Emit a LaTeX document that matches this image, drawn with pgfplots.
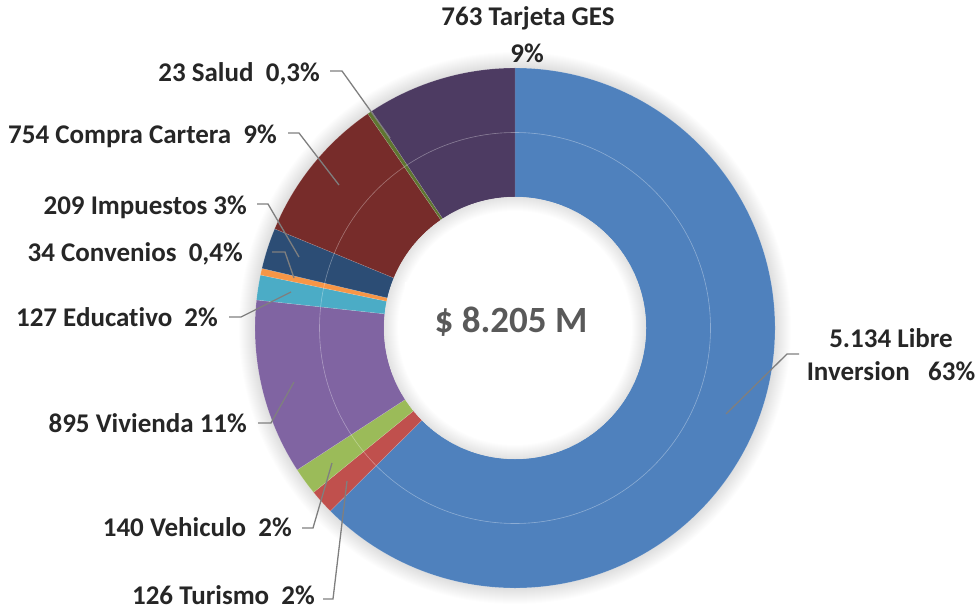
\documentclass[border=0pt]{standalone}
\usepackage{pgfplots}
\pgfplotsset{compat=1.18}
\usepackage{pgfplotstable}
\usepackage{fontspec}
\setmainfont{Carlito}[Ligatures={NoCommon}]

\definecolor{cLib}{HTML}{4F81BD}
\definecolor{cTur}{HTML}{C0504D}
\definecolor{cVeh}{HTML}{9BBB59}
\definecolor{cViv}{HTML}{8064A2}
\definecolor{cEdu}{HTML}{4BACC6}
\definecolor{cCon}{HTML}{F79646}
\definecolor{cImp}{HTML}{2C4D75}
\definecolor{cCar}{HTML}{772C2A}
\definecolor{cSal}{HTML}{5F7530}
\definecolor{cTar}{HTML}{4D3B62}
\definecolor{lbl}{HTML}{262626}
\definecolor{lead}{HTML}{7F7F7F}
\definecolor{ctr}{HTML}{595959}

\pgfplotstableread{
name value col
Libre 5134 cLib
Turismo 126 cTur
Vehiculo 140 cVeh
Vivienda 895 cViv
Educativo 127 cEdu
Convenios 34 cCon
Impuestos 209 cImp
Cartera 754 cCar
Salud 23 cSal
Tarjeta 763 cTar
}\donut

\begin{document}
\begin{tikzpicture}
\begin{axis}[x=1pt,y=1pt,xmin=0,xmax=976,ymin=0,ymax=611,hide axis,clip=false]
\pgfplotsextra{
  \pgfplotstablegetrowsof{\donut}\pgfmathtruncatemacro{\nr}{\pgfplotsretval-1}
  \gdef\segtot{0}
  \foreach \i in {0,...,\nr}{%
    \pgfplotstablegetelem{\i}{value}\of{\donut}%
    \pgfmathsetmacro{\segt}{\segtot+\pgfplotsretval}\xdef\segtot{\segt}}
  \begin{scope}[shift={(axis cs:515,283)}]
    \foreach \k in {1,...,16}{\fill[black,opacity=0.008] (0,0) circle[radius=260pt+\k pt];}
    \gdef\segcum{0}
    \foreach \i in {0,...,\nr}{%
      \pgfplotstablegetelem{\i}{value}\of{\donut}\let\segv\pgfplotsretval
      \pgfplotstablegetelem{\i}{col}\of{\donut}\let\segc\pgfplotsretval
      \pgfmathsetmacro{\sega}{90-360*(\segcum/\segtot)}
      \pgfmathsetmacro{\segb}{90-360*((\segcum+\segv)/\segtot)}
      \fill[fill=\segc,draw=white,draw opacity=0.25,line width=0.4pt] (\sega:260pt) arc[start angle=\sega,end angle=\segb,radius=260pt] -- (\segb:131pt) arc[start angle=\segb,end angle=\sega,radius=131pt] -- cycle;
      \pgfmathsetmacro{\segn}{\segcum+\segv}\xdef\segcum{\segn}}
    \draw[white,opacity=0.35,line width=0.6pt] (0,0) circle[radius=195.5pt];
    \fill[white] (0,0) circle[radius=131pt];
    \foreach \k in {1,...,14}{\fill[black,opacity=0.009,even odd rule] (0,0) circle[radius=131pt] circle[radius=131pt-\k pt];}
  \end{scope}
  \fill[white] (axis cs:405,256) rectangle (axis cs:620,329);
}
% leader lines
\addplot[lead,line width=1.3pt,no marks] coordinates {(330,540) (342,540) (390,473)};
\addplot[lead,line width=1.3pt,no marks] coordinates {(288,478) (299,478) (339,426)};
\addplot[lead,line width=1.3pt,no marks] coordinates {(257,407) (268,407) (299,354)};
\addplot[lead,line width=1.3pt,no marks] coordinates {(272,359) (285,359) (294,333)};
\addplot[lead,line width=1.3pt,no marks] coordinates {(229,294) (241,294) (291,319)};
\addplot[lead,line width=1.3pt,no marks] coordinates {(258,188) (271,188) (294,229)};
\addplot[lead,line width=1.3pt,no marks] coordinates {(302,83) (313,83) (332,148)};
\addplot[lead,line width=1.3pt,no marks] coordinates {(323,12) (333,12) (347,130)};
\addplot[lead,line width=1.3pt,no marks] coordinates {(799,257) (787,257) (726,197)};
% labels
\begin{scope}[every node/.style={text=lbl,font=\fontsize{27}{32}\selectfont\bfseries,inner sep=0pt}]
\node[anchor=mid] at (axis cs:528,588) {763 Tarjeta GES};
\node[anchor=mid] at (axis cs:527,551) {9\%};
\node[anchor=mid east] at (axis cs:320,532) {23 Salud\ \ 0,3\%};
\node[anchor=mid east] at (axis cs:277,470) {754 Compra Cartera\ \ 9\%};
\node[anchor=mid east] at (axis cs:247,399) {209 Impuestos 3\%};
\node[anchor=mid east] at (axis cs:243,352) {34 Convenios\ \ 0,4\%};
\node[anchor=mid east] at (axis cs:218,287) {127 Educativo\ \ 2\%};
\node[anchor=mid east] at (axis cs:247,181) {895 Vivienda 11\%};
\node[anchor=mid east] at (axis cs:292,77) {140 Vehiculo\ \ 2\%};
\node[anchor=mid east] at (axis cs:315,9) {126 Turismo\ \ 2\%};
\node[anchor=mid] at (axis cs:891,266) {5.134 Libre};
\node[anchor=mid] at (axis cs:891,233) {Inversion\ \ \ 63\%};
\end{scope}
\node[anchor=mid,text=ctr,inner sep=0pt,font=\fontsize{37}{42}\selectfont\bfseries] at (axis cs:511,281) {\$ 8.205 M};
\end{axis}
\pgfresetboundingbox
\path (current axis.south west) rectangle (current axis.north east);
\end{tikzpicture}
\end{document}
